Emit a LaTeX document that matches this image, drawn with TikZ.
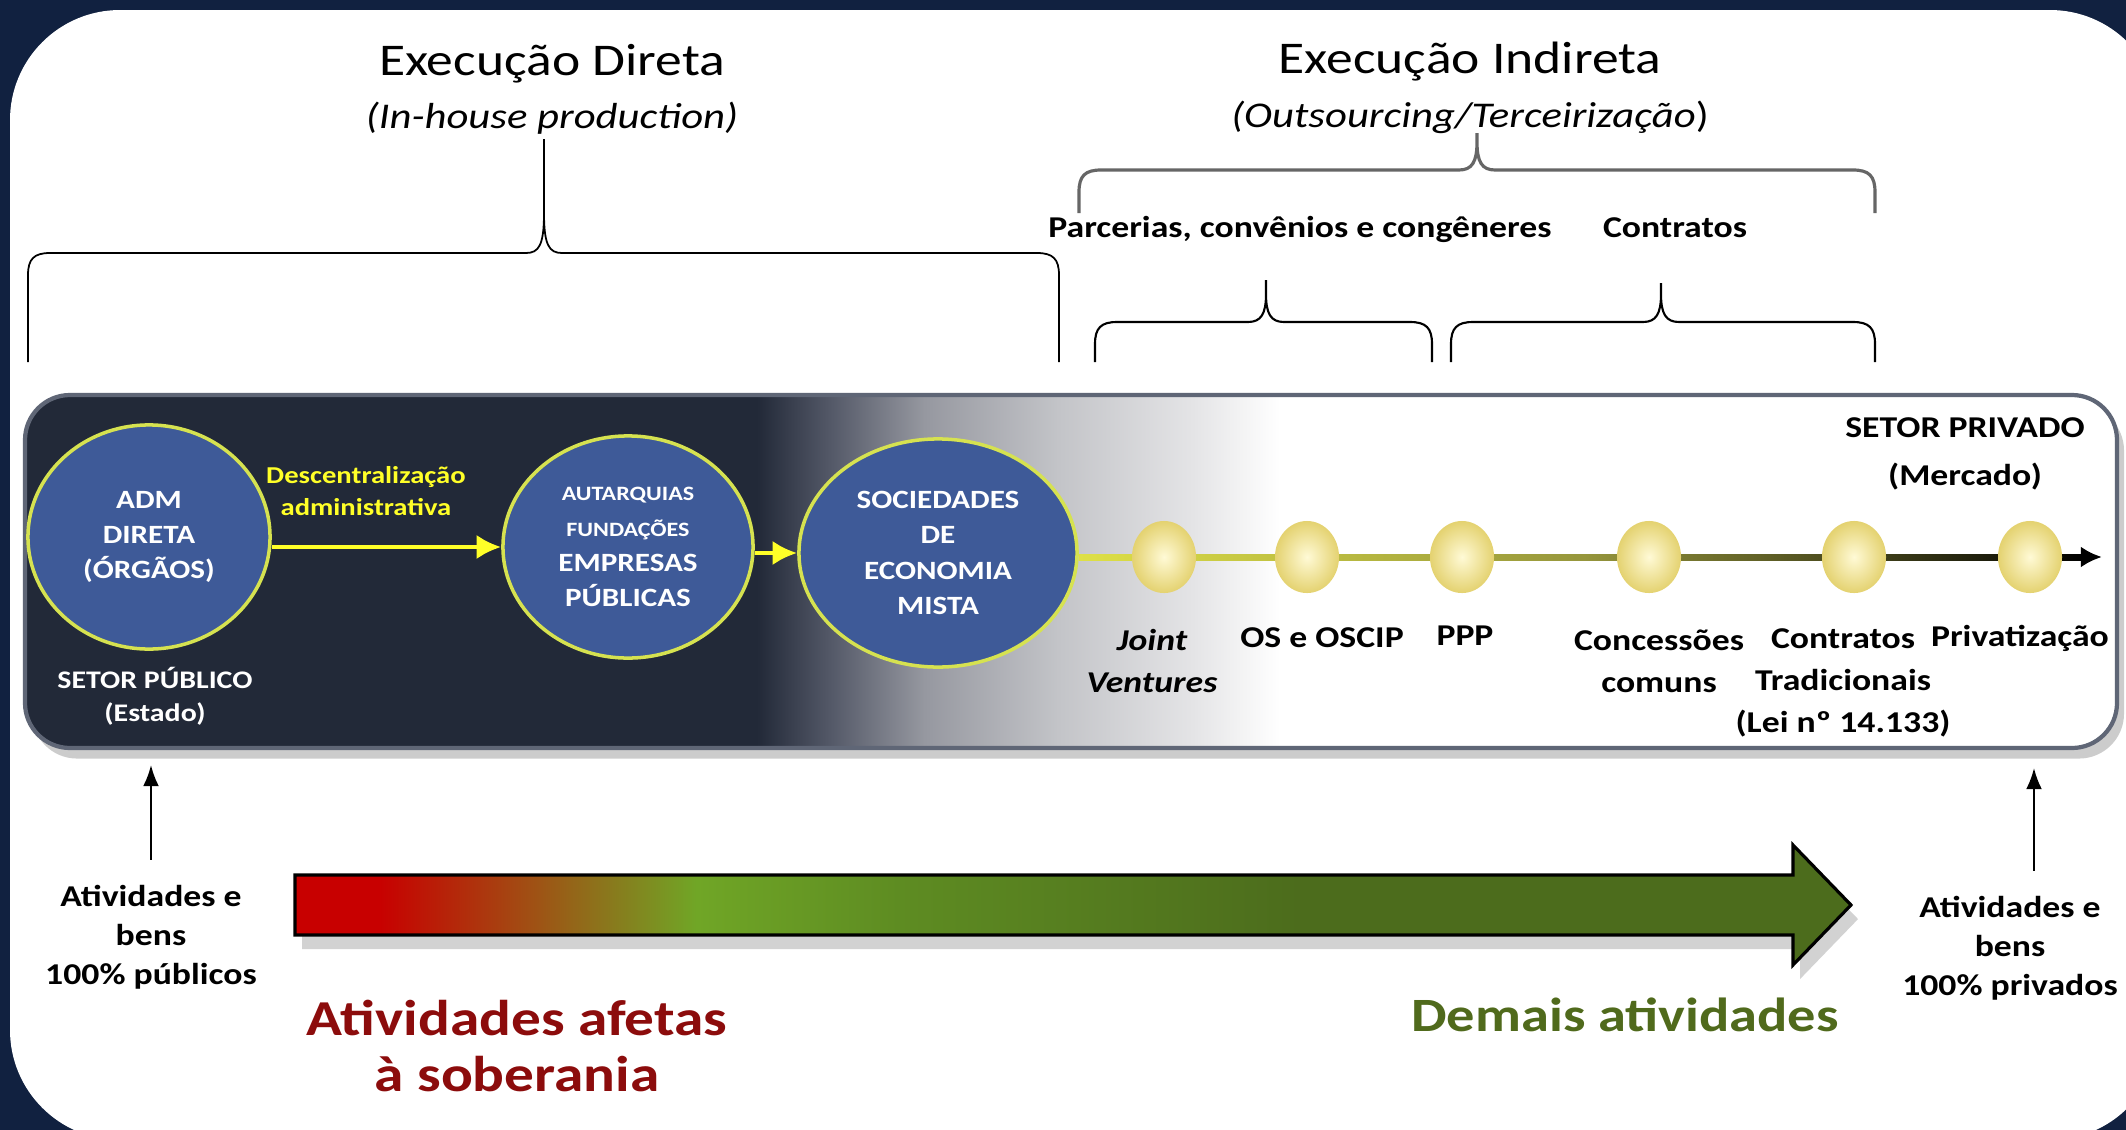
\documentclass[tikz,border=0pt]{standalone}
\usepackage{fontspec}
\setmainfont{Carlito}[FakeStretch=1.18]
\usepackage{tikz}
\usetikzlibrary{calc,shapes.geometric,arrows.meta,shadows}

\definecolor{framenavy}{RGB}{17,33,64}
\definecolor{banddark}{RGB}{34,41,56}
\definecolor{bandgrayA}{RGB}{85,90,105}
\definecolor{bandgrayB}{RGB}{150,152,160}
\definecolor{bandgrayC}{RGB}{195,196,200}
\definecolor{bandgrayD}{RGB}{228,228,230}
\definecolor{bandrim}{RGB}{95,102,118}
\definecolor{circleblue}{RGB}{62,90,152}
\definecolor{ringyellow}{RGB}{214,226,80}
\definecolor{textyellow}{RGB}{255,255,40}
\definecolor{lineyellow}{RGB}{222,224,70}
\definecolor{lineolive}{RGB}{150,150,60}
\definecolor{ballinner}{RGB}{255,250,214}
\definecolor{ballouter}{RGB}{228,210,112}
\definecolor{arrowred}{RGB}{200,0,0}
\definecolor{arrowbrown}{RGB}{160,80,20}
\definecolor{arrowgreen}{RGB}{112,166,38}
\definecolor{arrowmid}{RGB}{94,140,34}
\definecolor{arrowdark}{RGB}{76,108,28}
\definecolor{sovred}{RGB}{140,12,12}
\definecolor{demgreen}{RGB}{80,106,28}

\pgfdeclarehorizontalshading{bandshade}{100bp}{color(0bp)=(banddark); color(42.5bp)=(banddark); color(44.3bp)=(bandgrayA); color(46.5bp)=(bandgrayB); color(49.7bp)=(bandgrayC); color(52.9bp)=(bandgrayD); color(55bp)=(white); color(100bp)=(white)}
\pgfdeclarehorizontalshading{arrowshade}{100bp}{color(0bp)=(arrowred); color(27.7bp)=(arrowred); color(32.6bp)=(arrowbrown); color(37.9bp)=(arrowgreen); color(44.4bp)=(arrowmid); color(57.3bp)=(arrowdark); color(100bp)=(arrowdark)}

\def\curlybrace[#1](#2,#3,#4)(#5,#6,#7,#8){\draw[#1] (#2,#7) -- (#2,#5+22) .. controls (#2,#5+6) and (#2+6,#5) .. (#2+22,#5) -- (#3-18,#5) .. controls (#3-5,#5) and (#3,#5-8) .. (#3,#5-#8) -- (#3,#6) (#3,#5-#8) .. controls (#3,#5-8) and (#3+5,#5) .. (#3+18,#5) -- (#4-22,#5) .. controls (#4-6,#5) and (#4,#5+6) .. (#4,#5+22) -- (#4,#7);}

\tikzset{
	orgcircle/.style={ellipse, draw=ringyellow, line width=1pt, fill=circleblue, inner sep=0pt, text=white, align=center, font=\bfseries\fontsize{7.5}{10}\selectfont},
	ball/.style={ellipse, minimum width=0.64cm, minimum height=0.72cm, inner sep=0pt, inner color=ballinner, outer color=ballouter},
	balllabel/.style={align=center, inner sep=0pt, font=\bfseries\fontsize{8.6}{12}\selectfont},
	bottomlabel/.style={align=center, inner sep=0pt, font=\bfseries\fontsize{8.6}{11.1}\selectfont},
	yarrow/.style={draw=textyellow, line width=1.3pt, -{Latex[length=7pt,width=7pt]}},
	upline/.style={draw=black, line width=0.6pt, -{Latex[length=6pt,width=4.5pt]}}
}

\begin{document}
\begin{tikzpicture}[x=0.01cm, y=-0.01cm]
		%%%%% START %%%%%
		
		\useasboundingbox (0,0) rectangle (2126,1130);
		\fill[framenavy] (0,0) rectangle (2126,1130);
		\clip (0,0) rectangle (2126,1130);
		\fill[white, rounded corners=1.1cm] (10,10) rectangle (2160,1140);
		
		\node[anchor=base, font=\fontsize{12.9}{15}\selectfont] (dirtitle) at (552,75) {Execução Direta};
		\node[anchor=base, font=\itshape\fontsize{10.3}{12}\selectfont] (dirsub) at (552,128) {(In-house production)};
		\node[anchor=base, font=\fontsize{12.9}{15}\selectfont] (indtitle) at (1470,73) {Execução Indireta};
		\node[anchor=base, font=\fontsize{10.3}{12}\selectfont] (indsub) at (1470,127) {\textit{(Outsourcing/Terceirização})};
		\node[anchor=base, font=\bfseries\fontsize{8.6}{11}\selectfont] (parc) at (1300,237) {Parcerias, convênios e congêneres};
		\node[anchor=base, font=\bfseries\fontsize{8.6}{11}\selectfont] (contr) at (1675,237) {Contratos};
		
		\curlybrace[line width=0.5pt](28,544,1059)(253,139,362,40)
		\curlybrace[line width=0.9pt, color=black!60](1079,1477,1875)(170,133,213,28)
		\curlybrace[line width=0.6pt](1095,1266,1432)(322,280,362,28)
		\curlybrace[line width=0.6pt](1451,1661,1875)(322,283,362,28)
		
		\shadedraw[shading=bandshade, draw=bandrim, line width=1.2pt, rounded corners=0.45cm, drop shadow={shadow xshift=2pt, shadow yshift=-3pt, opacity=0.4}] (25,395) rectangle (2117,748);
		
		\node[orgcircle, minimum width=2.42cm, minimum height=2.24cm] (adm) at (149,537) {ADM\\DIRETA\\(ÓRGÃOS)};
		\node[orgcircle, minimum width=2.50cm, minimum height=2.22cm] (aut) at (628,547) {\fontsize{5.8}{7.8}\selectfont AUTARQUIAS\\\fontsize{5.8}{7.8}\selectfont FUNDAÇÕES\\EMPRESAS\\PÚBLICAS};
		\node[orgcircle, minimum width=2.78cm, minimum height=2.28cm] (soc) at (938,553) {SOCIEDADES\\DE\\ECONOMIA\\MISTA};
		
		\node[align=center, text=white, font=\bfseries\fontsize{7.2}{9.4}\selectfont] (pubsec) at (155,696) {SETOR PÚBLICO\\(Estado)};
		\node[align=center, text=textyellow, font=\bfseries\fontsize{6.9}{9.1}\selectfont] (descent) at (366,491) {Descentralização\\administrativa};
		\node[balllabel, font=\bfseries\fontsize{8.6}{13.7}\selectfont] (privsec) at (1965,454) {SETOR PRIVADO\\(Mercado)};
		
		\draw[yarrow] (adm.east |- aut.west) -- (aut.west);
		\draw[yarrow] (aut.east |- soc.west) -- (soc.west);
		
		\coordinate (mktend) at (2102,557);
		\shade[left color=lineyellow, right color=black, middle color=lineolive] ($(soc.east |- mktend)+(0,-3)$) rectangle ($(mktend)+(-14,3)$);
		\draw[black, line width=1.2pt, -{Latex[length=6pt,width=6pt]}] ($(mktend)+(-16,0)$) -- (mktend);
		
		\foreach \bx/\bn in {1164/jv, 1307/os, 1462/ppp, 1649/conc, 1854/trad, 2030/priv}
			\node[ball] (\bn) at (\bx,557) {};
		
		\node[balllabel, font=\bfseries\itshape\fontsize{8.6}{12}\selectfont] (jvlab) at (1152,661) {Joint\\Ventures};
		\node[balllabel] (oslab) at (1322,638) {OS e OSCIP};
		\node[balllabel] (ppplab) at (1465,636) {PPP};
		\node[balllabel] (conclab) at (1659,661) {Concessões\\comuns};
		\node[balllabel] (tradlab) at (1843,683) {Contratos\\Tradicionais\\(Lei nº 14.133)};
		\node[balllabel] (privlab) at (2020,638) {Privatização};
		
		\node[bottomlabel] (pubL) at (151,937) {Atividades e\\bens\\100\% públicos};
		\node[bottomlabel] (privL) at (2010,948) {Atividades e\\bens\\100\% privados};
		\coordinate (pubtip) at (151,765);
		\coordinate (privtip) at (2034,768);
		\draw[upline, shorten <=7pt] (pubL.north -| pubtip) -- (pubtip);
		\draw[upline, shorten <=7pt] (privL.north -| privtip) -- (privtip);
		
		\shadedraw[shading=arrowshade, draw=black, line width=0.9pt, drop shadow={shadow xshift=2pt, shadow yshift=-4pt, opacity=0.35}] (295,875) -- (1793,875) -- (1793,845) -- (1851,905) -- (1793,965) -- (1793,935) -- (295,935) -- cycle;
		
		\node[align=center, text=sovred, font=\bfseries\fontsize{14.3}{16.2}\selectfont] (sovtxt) at (517,1046) {Atividades afetas\\à soberania};
		\node[text=demgreen, font=\bfseries\fontsize{13.6}{16}\selectfont] (demtxt) at (1625,1015) {Demais atividades};
		
		%%%%% END %%%%%
	\end{tikzpicture}
\end{document}
